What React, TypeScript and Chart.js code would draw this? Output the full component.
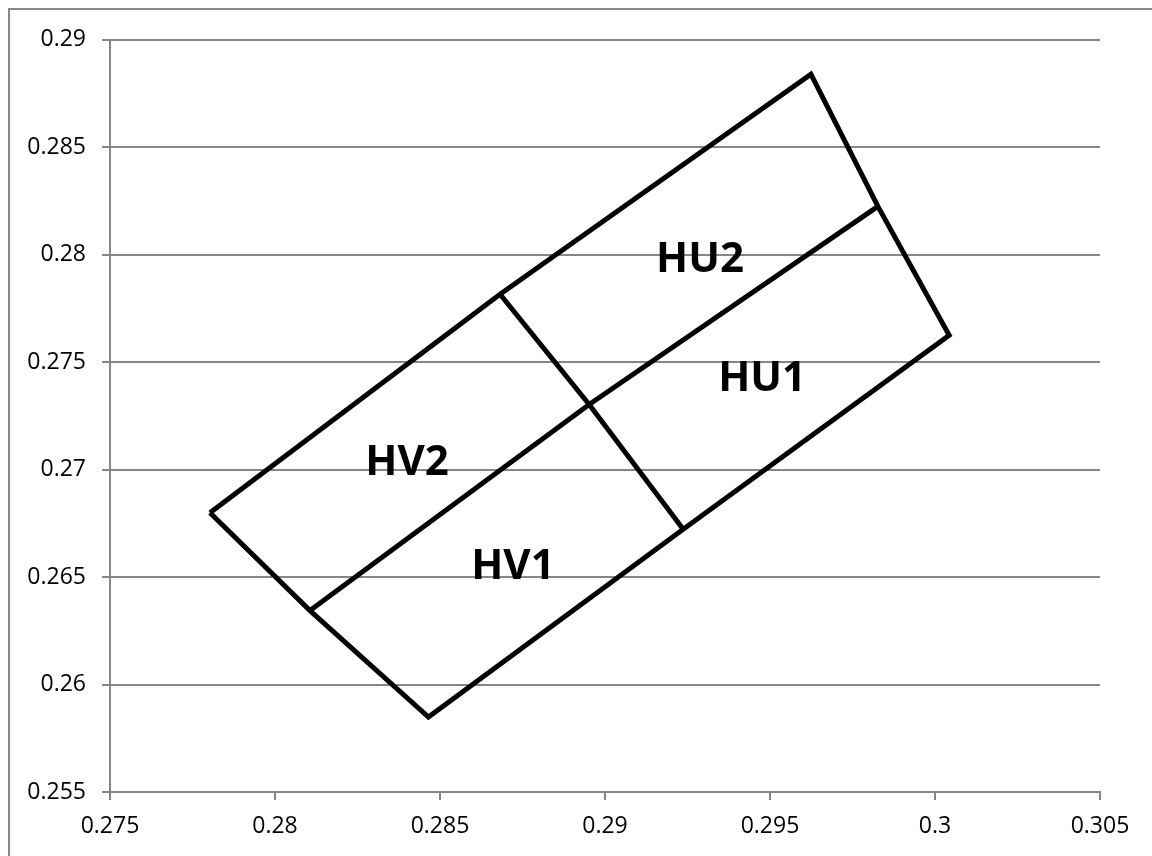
import React, { useEffect, useRef } from "react";
import { Chart, registerables } from "chart.js";

Chart.register(...registerables);

// Outline of the whole region: A, H, G, F, E, D, C, B, A
const outlineX = [0.27803, 0.28682, 0.29624, 0.29827, 0.30043, 0.29237, 0.28465, 0.28106, 0.27803];
const outlineY = [0.26799, 0.27816, 0.2884, 0.28225, 0.27625, 0.26723, 0.25849, 0.26344, 0.26799];

// Middle dividing line: B, M, F
const middleX = [0.28106, 0.28952, 0.29827];
const middleY = [0.26344, 0.27303, 0.28225];

// Cross dividing line: H, M, D
const crossX = [0.28682, 0.28952, 0.29237];
const crossY = [0.27816, 0.27303, 0.26723];

// Region labels
const labelNames = ["HU2", "HU1", "HV2", "HV1"];
const labelX = [0.29288, 0.29476, 0.284, 0.28721];
const labelY = [0.27977, 0.2742, 0.2703, 0.26548];

const xTicks = [0.275, 0.28, 0.285, 0.29, 0.295, 0.3, 0.305];
const yTicks = [0.255, 0.26, 0.265, 0.27, 0.275, 0.28, 0.285, 0.29];

const toPoints = (xs: number[], ys: number[]) => xs.map((x, i) => ({ x, y: ys[i] }));
const fmt = (v: number) => Number(v.toFixed(3)).toString();

const labelPlugin = {
  id: "regionLabels",
  afterDatasetsDraw(chart: any) {
    const { ctx, scales } = chart;
    ctx.save();
    ctx.fillStyle = "#000";
    ctx.font = "bold 42px 'Open Sans'";
    ctx.textAlign = "center";
    ctx.textBaseline = "middle";
    labelNames.forEach((name, i) => {
      ctx.fillText(name, scales.x.getPixelForValue(labelX[i]), scales.y.getPixelForValue(labelY[i]));
    });
    ctx.restore();
  },
};

export default function App() {
  const ref = useRef<HTMLCanvasElement | null>(null);
  useEffect(() => {
    if (!ref.current) return;
    const lineStyle = {
      showLine: true,
      borderColor: "#000",
      borderWidth: 5,
      pointRadius: 0,
      borderJoinStyle: "miter" as const,
      fill: false,
      tension: 0,
    };
    const chart = new Chart(ref.current, {
      type: "scatter",
      data: {
        datasets: [
          { label: "Outline", data: toPoints(outlineX, outlineY), ...lineStyle },
          { label: "Middle", data: toPoints(middleX, middleY), ...lineStyle },
          { label: "Cross", data: toPoints(crossX, crossY), ...lineStyle },
        ],
      },
      options: {
        animation: false,
        responsive: true,
        maintainAspectRatio: false,
        layout: { padding: { top: 27.5, right: 52, bottom: 0, left: 0 } },
        plugins: { legend: { display: false }, tooltip: { enabled: false } },
        scales: {
          x: {
            type: "linear",
            min: 0.275,
            max: 0.305,
            afterBuildTicks: (s: any) => {
              s.ticks = xTicks.map((v) => ({ value: v }));
            },
            afterFit: (s: any) => {
              s.height = 64;
            },
            ticks: {
              callback: (v: any) => fmt(Number(v)),
              color: "#000",
              font: { family: "'Open Sans'", size: 23 },
              padding: 13,
              maxRotation: 0,
              autoSkip: false,
            },
            grid: {
              drawOnChartArea: false,
              drawTicks: true,
              tickLength: 8,
              color: "#868686",
              lineWidth: 2,
            },
            border: { display: true, color: "#868686", width: 2 },
          },
          y: {
            type: "linear",
            min: 0.255,
            max: 0.29,
            afterBuildTicks: (s: any) => {
              s.ticks = yTicks.map((v) => ({ value: v }));
            },
            afterFit: (s: any) => {
              s.width = 100;
            },
            ticks: {
              callback: (v: any) => fmt(Number(v)),
              color: "#000",
              font: { family: "'Open Sans'", size: 23 },
              padding: 16,
              autoSkip: false,
            },
            grid: {
              drawOnChartArea: true,
              drawTicks: true,
              tickLength: 8,
              color: "#868686",
              lineWidth: 2,
            },
            border: { display: true, color: "#868686", width: 2 },
          },
        },
      },
      plugins: [labelPlugin],
    });
    return () => chart.destroy();
  }, []);

  return (
    <div
      style={{
        position: "fixed",
        left: 8,
        top: 8,
        right: 0,
        bottom: 0,
        borderTop: "2px solid #888",
        borderLeft: "2px solid #888",
        boxSizing: "border-box",
        background: "#fff",
      }}
    >
      <div style={{ position: "relative", width: "100%", height: "100%" }}>
        <canvas ref={ref} />
      </div>
    </div>
  );
}
